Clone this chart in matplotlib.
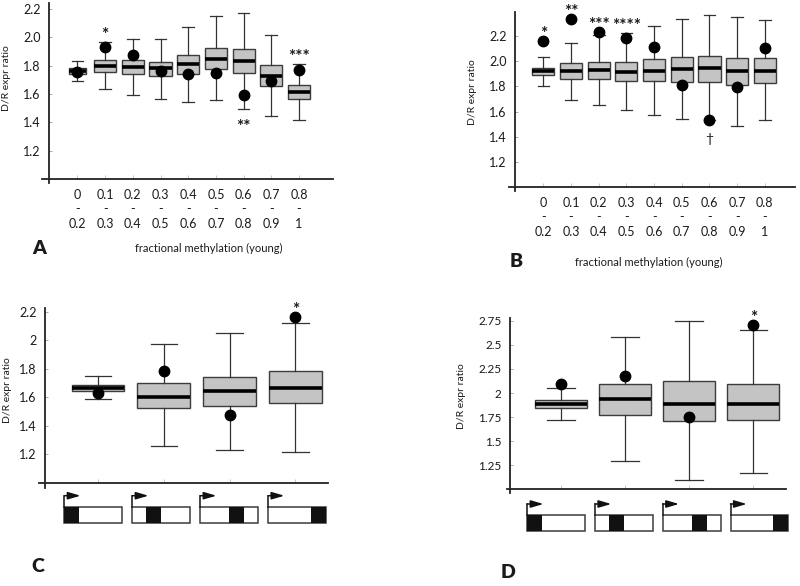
import matplotlib
matplotlib.use("Agg")
import matplotlib.pyplot as plt
from matplotlib.transforms import blended_transform_factory
from matplotlib.patches import Rectangle

plt.rcParams['font.family'] = ['Lato', 'DejaVu Sans']

# ---------------- data ----------------
meth_lo = ['0', '0.1', '0.2', '0.3', '0.4', '0.5', '0.6', '0.7', '0.8']
meth_hi = ['0.2', '0.3', '0.4', '0.5', '0.6', '0.7', '0.8', '0.9', '1']

A_whishi = [1.830, 1.965, 1.986, 1.986, 2.075, 2.148, 2.169, 2.016, 1.812]
A_q3     = [1.784, 1.842, 1.840, 1.828, 1.875, 1.925, 1.918, 1.805, 1.664]
A_med    = [1.762, 1.800, 1.788, 1.781, 1.812, 1.847, 1.833, 1.729, 1.616]
A_q1     = [1.743, 1.758, 1.739, 1.725, 1.741, 1.776, 1.748, 1.659, 1.565]
A_whislo = [1.692, 1.633, 1.591, 1.567, 1.544, 1.558, 1.494, 1.445, 1.419]
A_dot    = [1.755, 1.929, 1.875, 1.760, 1.741, 1.748, 1.593, 1.694, 1.772]
A_sig    = ['', '*', '', '', '', '', '**', '', '***']
A_side   = [0, 1, 0, 0, 0, 0, -1, 0, 1]

B_whishi = [2.036, 2.147, 2.210, 2.221, 2.279, 2.335, 2.364, 2.348, 2.327]
B_q3     = [1.949, 1.984, 1.997, 1.992, 2.015, 2.036, 2.044, 2.023, 2.028]
B_med    = [1.923, 1.923, 1.928, 1.912, 1.923, 1.939, 1.944, 1.923, 1.923]
B_q1     = [1.894, 1.862, 1.857, 1.841, 1.841, 1.836, 1.833, 1.810, 1.828]
B_whislo = [1.807, 1.696, 1.651, 1.617, 1.575, 1.543, 1.535, 1.488, 1.532]
B_dot    = [2.160, 2.335, 2.229, 2.182, 2.116, 1.812, 1.535, 1.794, 2.102]
B_sig    = ['*', '**', '***', '****', '', '', '\u2020', '', '']
B_side   = [1, 1, 1, 1, 0, 0, -1, 0, 0]

C_whishi = [1.747, 1.970, 2.049, 2.123]
C_q3     = [1.686, 1.700, 1.742, 1.784]
C_med    = [1.665, 1.605, 1.647, 1.665]
C_q1     = [1.647, 1.526, 1.537, 1.558]
C_whislo = [1.584, 1.258, 1.230, 1.219]
C_dot    = [1.633, 1.781, 1.477, 2.160]
C_sig    = ['', '', '', '*']
C_side   = [0, 0, 0, 1]

D_whishi = [2.051, 2.577, 2.743, 2.653]
D_q3     = [1.926, 2.092, 2.120, 2.092]
D_med    = [1.891, 1.943, 1.884, 1.881]
D_q1     = [1.846, 1.774, 1.711, 1.725]
D_whislo = [1.722, 1.289, 1.098, 1.171]
D_dot    = [2.092, 2.175, 1.753, 2.708]
D_sig    = ['', '', '', '*']
D_side   = [0, 0, 0, 1]

region_block = [0.0, 0.24, 0.5, 0.74]   # start of black block (fraction of gene)
block_frac = 0.26

AB_yticks = [1.2, 1.4, 1.6, 1.8, 2.0, 2.2]
A_yticklabels = ['1.2', '1.4', '1.6', '1.8', '2.0', '2.2']
C_yticks = [1.2, 1.4, 1.6, 1.8, 2.0, 2.2]
C_yticklabels = ['1.2', '1.4', '1.6', '1.8', '2', '2.2']
D_yticks = [1.25, 1.5, 1.75, 2.0, 2.25, 2.5, 2.75]
D_yticklabels = ['1.25', '1.5', '1.75', '2', '2.25', '2.5', '2.75']

# ---------------- figure ----------------
W, H = 800, 586
fig = plt.figure(figsize=(W / 100, H / 100), dpi=100)
TXT = '#1a1a1a'
EDGE = '#3c3c3c'


def add_ax(l, r, t, b):
    return fig.add_axes([l / W, 1 - b / H, (r - l) / W, (b - t) / H])


def style(ax, xlim, ylim, xspine, yticks, yticklabels, ysize=9):
    ax.set_xlim(xlim)
    ax.set_ylim(ylim)
    ax.patch.set_visible(False)
    for s in ['top', 'right']:
        ax.spines[s].set_visible(False)
    ax.spines['left'].set_position(('data', xspine))
    ax.spines['bottom'].set_position(('data', 1.0))
    for s in ['left', 'bottom']:
        ax.spines[s].set_color('#222222')
        ax.spines[s].set_linewidth(1.3)
    ax.set_yticks(yticks)
    ax.set_yticklabels(yticklabels)
    ax.tick_params(axis='y', direction='in', length=2.5, width=0.6,
                   color='#999999', pad=6, labelsize=ysize, labelcolor=TXT)
    ax.tick_params(axis='x', direction='in', length=3, width=0.6,
                   color='#bbbbbb', labelcolor=TXT)


def boxes(ax, whislo, q1, med, q3, whishi, dots, widths, capw):
    stats = [dict(whislo=a, q1=b, med=c, q3=d, whishi=e)
             for a, b, c, d, e in zip(whislo, q1, med, q3, whishi)]
    pos = list(range(len(stats)))
    ax.bxp(stats, positions=pos, widths=widths, capwidths=capw,
           showfliers=False, patch_artist=True, manage_ticks=False,
           boxprops=dict(facecolor='#c4c4c4', edgecolor=EDGE, linewidth=1.0),
           medianprops=dict(color='black', linewidth=2.6, solid_capstyle='butt'),
           whiskerprops=dict(color='#333333', linewidth=0.9),
           capprops=dict(color='#333333', linewidth=0.9))
    ax.plot(pos, dots, 'o', ms=7.5, color='black', zorder=5, clip_on=False)


def sigs(ax, sig, side, whislo, whishi, dots, up_off=1.5, down_off=16.4):
    for i, (s, d) in enumerate(zip(sig, side)):
        if not s:
            continue
        fs = 12.5 if '*' in s else 10
        if d > 0:
            y = max(whishi[i], dots[i])
            off = up_off
        else:
            y = min(whislo[i], dots[i])
            off = -down_off
        ax.annotate(s, (i, y), xytext=(0, off), textcoords='offset points',
                    ha='center', va='baseline', fontsize=fs, color=TXT,
                    fontweight='bold' if '*' in s else 'normal',
                    annotation_clip=False)


def genes(ax, top_px, step, left0, width):
    tr = blended_transform_factory(ax.transData, fig.transFigure)
    h = 16 / H
    y_top = 1 - top_px / H
    for i, bs in enumerate(region_block):
        left = left0 + i * step
        ax.add_patch(Rectangle((left, y_top - h), width, h, transform=tr,
                               facecolor='white', edgecolor=EDGE, lw=1.1,
                               clip_on=False))
        ax.add_patch(Rectangle((left + bs * width, y_top - h), block_frac * width, h,
                               transform=tr, facecolor='#111111', edgecolor='none',
                               clip_on=False))
        y_arr = y_top + 11 / H
        ax.plot([left, left], [y_top, y_arr], transform=tr, color='#111111',
                lw=1.1, clip_on=False, solid_capstyle='projecting')
        ax.annotate('', xy=(left + 0.28 * width, y_arr), xytext=(left, y_arr),
                    xycoords=tr, textcoords=tr,
                    arrowprops=dict(arrowstyle='-|>,head_length=0.75,head_width=0.22',
                                    color='#111111', lw=1.1, shrinkA=0, shrinkB=0))


xlabels = [f'{a}\n-\n{b}' for a, b in zip(meth_lo, meth_hi)]

# ---- Panel A ----
axA = add_ax(42, 333.3, 3, 183)
style(axA, (-1.28, 9.24), (0.972, 2.242), -1.02, AB_yticks, A_yticklabels)
boxes(axA, A_whislo, A_q1, A_med, A_q3, A_whishi, A_dot,
      [0.62] + [0.8] * 8, [0.42] * 9)
sigs(axA, A_sig, A_side, A_whislo, A_whishi, A_dot)
axA.set_xticks(range(9))
axA.set_xticklabels(xlabels, fontsize=9, linespacing=1.25)
axA.tick_params(axis='x', pad=7)

# ---- Panel B ----
axB = add_ax(509, 795, 11.7, 190.7)
style(axB, (-1.24, 9.09), (0.973, 2.393), -1.02, AB_yticks, A_yticklabels)
boxes(axB, B_whislo, B_q1, B_med, B_q3, B_whishi, B_dot, [0.8] * 9, [0.42] * 9)
sigs(axB, B_sig, B_side, B_whislo, B_whishi, B_dot)
axB.set_xticks(range(9))
axB.set_xticklabels(xlabels, fontsize=9, linespacing=1.25)
axB.tick_params(axis='x', pad=7)

# ---- Panel C ----
axC = add_ax(39.3, 328.3, 308.3, 487.7)
style(axC, (-0.89, 3.50), (0.965, 2.224), -0.80, C_yticks, C_yticklabels)
boxes(axC, C_whislo, C_q1, C_med, C_q3, C_whishi, C_dot, [0.8] * 4, [0.4] * 4)
sigs(axC, C_sig, C_side, C_whislo, C_whishi, C_dot)
axC.set_xticks(range(4))
axC.set_xticklabels([''] * 4)
genes(axC, 506.7, 1.032, -0.51, 0.88)

# ---- Panel D ----
axD = add_ax(506.7, 786, 318.3, 492.7)
style(axD, (-0.85, 3.51), (0.965, 2.776), -0.80, D_yticks, D_yticklabels, ysize=8.5)
boxes(axD, D_whislo, D_q1, D_med, D_q3, D_whishi, D_dot, [0.81] * 4, [0.43] * 4)
sigs(axD, D_sig, D_side, D_whislo, D_whishi, D_dot)
axD.set_xticks(range(4))
axD.set_xticklabels([''] * 4)
genes(axD, 515, 1.058, -0.53, 0.905)

# ---- texts ----
def ftext(x, y, s, **kw):
    fig.text(x / W, 1 - y / H, s, ha='center', va='center', color=TXT, **kw)

for (x, y) in [(6.3, 78), (472.7, 92), (7, 390), (461.7, 396.3)]:
    ftext(x, y, 'D/R expr ratio', rotation=90, fontsize=7.5)
ftext(209, 248.5, 'fractional methylation (young)', fontsize=8)
ftext(649, 262, 'fractional methylation (young)', fontsize=8)
for (x, y, s) in [(38.8, 248.7, 'A'), (516.3, 261.7, 'B'), (38.3, 566.3, 'C'), (508.3, 573, 'D')]:
    ftext(x, y, s, fontsize=14, fontweight='heavy')

fig.savefig('out.png', dpi=100)
